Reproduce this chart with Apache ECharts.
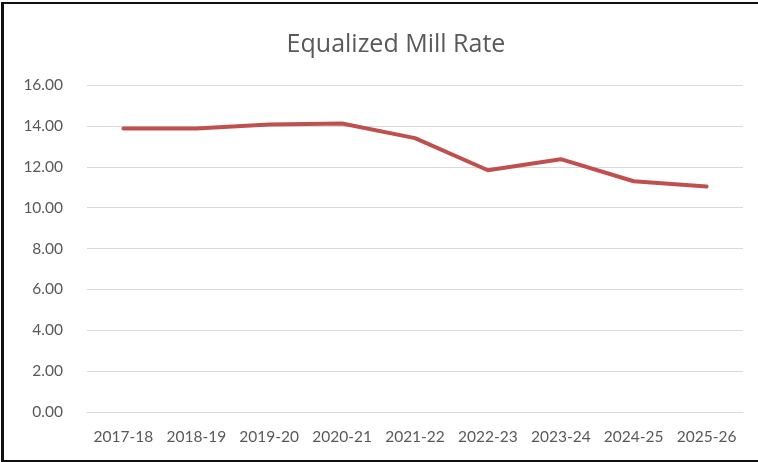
<!DOCTYPE html>
<html>
<head>
<meta charset="utf-8">
<script src="https://cdn.jsdelivr.net/npm/echarts@6/dist/echarts.min.js"></script>
<style>
html,body{margin:0;padding:0;background:#fff;}
#wrap{position:relative;width:758px;height:462px;overflow:hidden;}
#chart{position:absolute;left:0;top:0;width:758px;height:462px;}
#frame{position:absolute;left:1px;top:2px;width:760px;height:456px;border-left:3px solid #111;border-top:2px solid #111;border-bottom:2px solid #111;pointer-events:none;}
</style>
</head>
<body>
<div id="wrap">
<div id="chart"></div>
<div id="frame"></div>
</div>
<script>
const titleText = 'Equalized Mill Rate';
const categories = ['2017-18','2018-19','2019-20','2020-21','2021-22','2022-23','2023-24','2024-25','2025-26'];
const millRate = [13.87, 13.87, 14.07, 14.12, 13.40, 11.83, 12.37, 11.29, 11.03];
const yTicks = {min: 0, max: 16, interval: 2};

const chart = echarts.init(document.getElementById('chart'), null, {renderer: 'canvas'});
chart.setOption({
  animation: false,
  backgroundColor: '#ffffff',
  title: {
    text: titleText,
    left: 391,
    top: 27,
    textAlign: 'center',
    textStyle: {fontFamily: 'Open Sans', fontSize: 25, fontWeight: 'normal', color: '#595959'}
  },
  grid: {left: 87, right: 15, top: 85, bottom: 50, containLabel: false},
  xAxis: {
    type: 'category',
    data: categories,
    boundaryGap: true,
    axisLine: {show: true, lineStyle: {color: '#d9d9d9', width: 1}},
    axisTick: {show: false},
    axisLabel: {margin: 17, fontFamily: 'Lato', fontSize: 15.5, color: '#595959', interval: 0}
  },
  yAxis: {
    type: 'value',
    min: yTicks.min,
    max: yTicks.max,
    interval: yTicks.interval,
    axisLine: {show: false},
    axisTick: {show: false},
    splitLine: {show: true, lineStyle: {color: '#d9d9d9', width: 1}},
    axisLabel: {margin: 24, fontFamily: 'Lato', fontSize: 15.5, color: '#595959',
      formatter: v => v.toFixed(2)}
  },
  series: [{
    type: 'line',
    data: millRate,
    showSymbol: false,
    symbol: 'none',
    lineStyle: {color: '#C0504D', width: 4, cap: 'round', join: 'round'},
    itemStyle: {color: '#C0504D'}
  }]
});
</script>
</body>
</html>
